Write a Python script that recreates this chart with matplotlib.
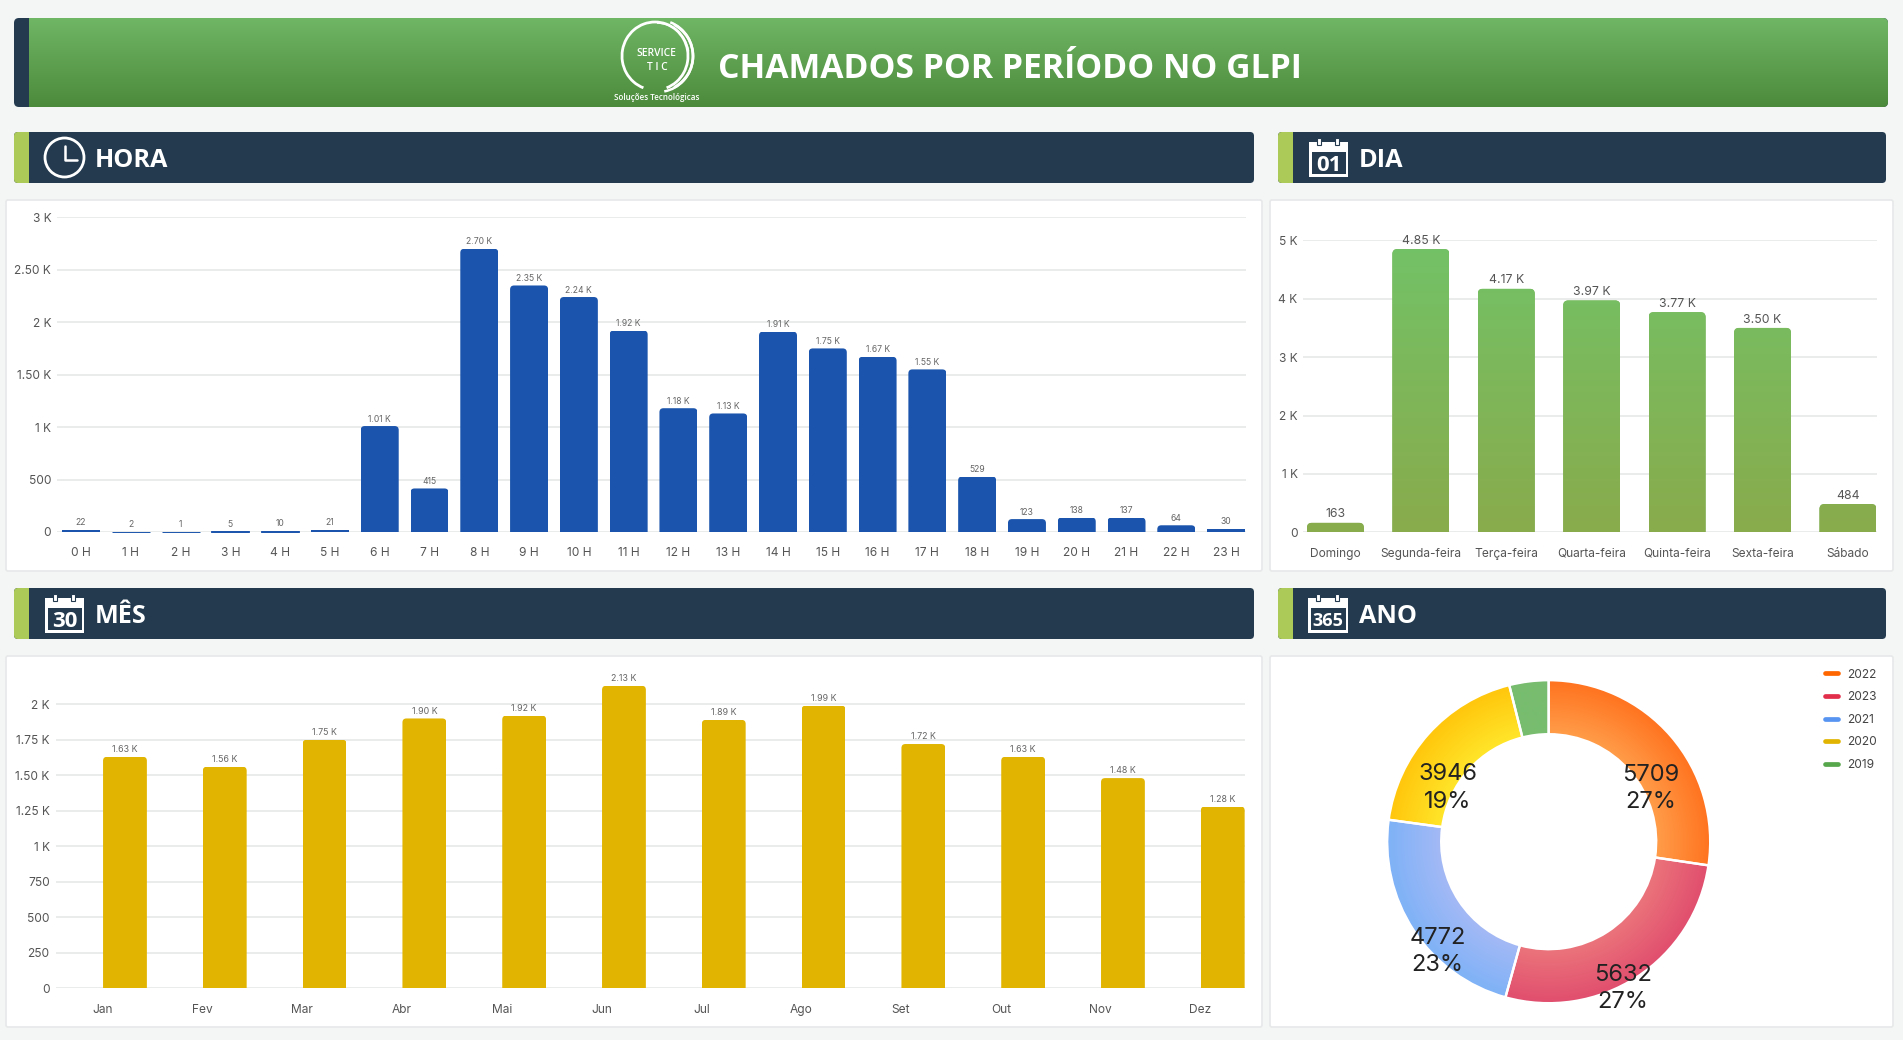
import numpy as np
import matplotlib
matplotlib.use("Agg")
import matplotlib.pyplot as plt
from matplotlib.patches import FancyBboxPatch, PathPatch, Rectangle, Circle, Arc, Wedge
from matplotlib.path import Path
from matplotlib.lines import Line2D
from matplotlib.colors import to_rgb

plt.rcParams['font.family'] = ['Inter', 'DejaVu Sans']

# ---------- data ----------
hour_labels = [f"{h} H" for h in range(24)]
hour_values = [22, 2, 1, 5, 10, 21, 1010, 415, 2700, 2350, 2240, 1920, 1180, 1130,
               1910, 1750, 1670, 1550, 529, 123, 138, 137, 64, 30]
hour_ticks = [0, 500, 1000, 1500, 2000, 2500, 3000]
hour_ticklabels = ["0", "500", "1 K", "1.50 K", "2 K", "2.50 K", "3 K"]

day_labels = ["Domingo", "Segunda-feira", "Terça-feira", "Quarta-feira",
              "Quinta-feira", "Sexta-feira", "Sábado"]
day_values = [163, 4850, 4170, 3970, 3770, 3500, 484]
day_ticks = [0, 1000, 2000, 3000, 4000, 5000]
day_ticklabels = ["0", "1 K", "2 K", "3 K", "4 K", "5 K"]

month_labels = ["Jan", "Fev", "Mar", "Abr", "Mai", "Jun", "Jul", "Ago", "Set", "Out", "Nov", "Dez"]
month_values = [1630, 1560, 1750, 1900, 1920, 2130, 1890, 1990, 1720, 1630, 1480, 1280]
month_ticks = [0, 250, 500, 750, 1000, 1250, 1500, 1750, 2000]
month_ticklabels = ["0", "250", "500", "750", "1 K", "1.25 K", "1.50 K", "1.75 K", "2 K"]

year_labels = ["2022", "2023", "2021", "2020", "2019"]
year_values = [5709, 5632, 4772, 3946, 821]
year_shares = ["27%", "27%", "23%", "19%", None]

# ---------- style ----------
W, H = 1903, 1040
BG = "#F4F6F5"
NAVY = "#233A4F"
LIME = "#ABCA58"
GRID = "#E8EAEB"
BORDER = "#E6E8E9"
TICK = "#555555"
BLUE = "#1A54AC"
GOLD = "#E0B400"
HEAD = "Open Sans"

fig = plt.figure(figsize=(W / 100, H / 100), dpi=100, facecolor=BG)
bg = fig.add_axes([0, 0, 1, 1], zorder=0)
bg.set_xlim(0, W)
bg.set_ylim(H, 0)
bg.axis("off")


def rounded(ax, x0, y0, x1, y1, r, **kw):
    p = FancyBboxPatch((x0 + r, y0 + r), x1 - x0 - 2 * r, y1 - y0 - 2 * r,
                       boxstyle=f"round,pad={r},rounding_size={r}", **kw)
    ax.add_patch(p)
    return p


def vgrad(ax, clip, x0, y0, x1, y1, top, bottom, zorder=2):
    t, b = np.array(to_rgb(top)), np.array(to_rgb(bottom))
    f = np.linspace(0, 1, 256)[:, None, None]
    img = t[None, None, :] * (1 - f) + b[None, None, :] * f
    im = ax.imshow(img, extent=(x0, x1, y1, y0), aspect="auto", origin="upper",
                   interpolation="bilinear", zorder=zorder)
    im.set_clip_path(clip)
    return im


def section(x0, x1, y0, y1, text, tx):
    rounded(bg, x0, y0, x1, y1, 4, fc=NAVY, ec="none", zorder=1)
    clip = FancyBboxPatch((x0 + 4, y0 + 4), x1 - x0 - 8, y1 - y0 - 8,
                          boxstyle="round,pad=4,rounding_size=4", transform=bg.transData)
    s = Rectangle((x0, y0), 15, y1 - y0, fc=LIME, ec="none", zorder=2)
    bg.add_patch(s)
    s.set_clip_path(clip)
    bg.text(tx, (y0 + y1) / 2 + 3, text, color="white", fontsize=18.2, fontweight=700,
            family=HEAD, va="center", ha="left", zorder=3)


def calendar(x0, x1, y0, y1, num):
    bg.add_patch(Rectangle((x0, y0 + 4), x1 - x0, y1 - y0 - 4, fc="white", ec="none", zorder=3))
    bg.add_patch(Rectangle((x0 + 2.5, y0 + 14), x1 - x0 - 5, y1 - y0 - 17, fc=NAVY, ec="none", zorder=4))
    for fx in (0.26, 0.72):
        cx = x0 + fx * (x1 - x0)
        bg.add_patch(Rectangle((cx - 2, y0), 4, 7, fc="white", ec=NAVY, lw=0.8, zorder=5))
    fs = 16 if len(num) == 2 else 13
    bg.text((x0 + x1) / 2, y0 + 27.5, num, color="white", fontsize=fs, fontweight=700,
            family=HEAD, ha="center", va="center", zorder=5)


# ---------- banner ----------
rounded(bg, 14, 18, 1888, 107, 5, fc=NAVY, ec="none", zorder=1)
bclip = FancyBboxPatch((19, 23), 1864, 79, boxstyle="round,pad=5,rounding_size=5", transform=bg.transData)
vgrad(bg, bclip, 29, 18, 1888, 107, "#6FB665", "#4C8A3B")
bg.set_xlim(0, W)
bg.set_ylim(H, 0)
bg.text(718, 68.5, "CHAMADOS POR PERÍODO NO GLPI", color="white", fontsize=24.3, fontweight=700,
        family=HEAD, va="center", ha="left", zorder=3)
# logo
bg.add_patch(Arc((655, 56), 66, 68, color="white", lw=2.0, zorder=3, theta1=-250, theta2=70))
bg.add_patch(Arc((658, 56), 70, 72, color="white", lw=1.8, zorder=3, theta1=-70, theta2=80))
bg.add_patch(Arc((656, 56), 74, 72, color="white", lw=2.0, zorder=3, theta1=-60, theta2=60))
bg.add_patch(Arc((657, 57), 64, 68, color="white", lw=1.2, zorder=3, theta1=-90, theta2=-10))
bg.text(656, 54, "SERVICE", color="white", fontsize=7.4, fontweight=600, ha="center", va="center",
        family=HEAD, zorder=3)
bg.text(657, 67, "T I C", color="white", fontsize=7.4, fontweight=600, ha="center", va="center",
        family=HEAD, zorder=3)
bg.text(657, 98, "Soluções Tecnológicas", color="white", fontsize=5.8, fontweight=600,
        ha="center", va="center", family=HEAD, zorder=3)

# ---------- sections ----------
section(14, 1254, 132, 183, "HORA", 95)
section(1278, 1886, 132, 183, "DIA", 1359)
section(14, 1254, 588, 639, "MÊS", 95)
section(1278, 1886, 588, 639, "ANO", 1359)

bg.add_patch(Circle((64.5, 157.5), 19.5, fc="none", ec="white", lw=2, zorder=3))
bg.plot([65, 65, 77], [146, 159.5, 159.5], color="white", lw=1.8, zorder=3, solid_capstyle="round")
bg.set_xlim(0, W)
bg.set_ylim(H, 0)
calendar(1309, 1348, 138, 177, "01")
calendar(45, 84, 594, 633, "30")
calendar(1308, 1348, 594, 633, "365")

# ---------- panels ----------
for (x0, y0, x1, y1) in [(6, 200, 1262, 571), (1270, 200, 1893, 571),
                         (6, 656, 1262, 1027), (1270, 656, 1893, 1027)]:
    rounded(bg, x0, y0, x1, y1, 2, fc="white", ec=BORDER, lw=1.2, zorder=1)


def chart_axes(l, t, r, b):
    ax = fig.add_axes([l / W, 1 - b / H, (r - l) / W, (b - t) / H], zorder=2)
    ax.patch.set_alpha(0)
    for s in ax.spines.values():
        s.set_visible(False)
    ax.grid(axis="y", color=GRID, lw=1.3)
    ax.set_axisbelow(True)
    ax.tick_params(length=0, labelcolor=TICK)
    return ax


def top_round_path(x0, x1, top, rx, ry):
    v = [(x0, 0), (x0, top - ry), (x0, top), (x0 + rx, top), (x1 - rx, top),
         (x1, top), (x1, top - ry), (x1, 0), (x0, 0)]
    c = [Path.MOVETO, Path.LINETO, Path.CURVE3, Path.CURVE3, Path.LINETO,
         Path.CURVE3, Path.CURVE3, Path.LINETO, Path.CLOSEPOLY]
    return Path(v, c)


def fmt(v):
    return str(v) if v < 1000 else f"{v / 1000:.2f} K"


def bars(ax, xpos, values, width, color, radius_px, lab_fs, lab_off_px, lab_color, grad=None):
    pos = ax.get_position()
    xpp = (ax.get_xlim()[1] - ax.get_xlim()[0]) / (pos.width * W)
    ypp = (ax.get_ylim()[1] - ax.get_ylim()[0]) / (pos.height * H)
    cont = ax.bar(xpos, values, width=width, color=color, zorder=2)
    lim = ax.get_xlim(), ax.get_ylim()
    for rect, v, x in zip(cont, values, xpos):
        h_px = v / ypp
        if h_px >= 4:
            r = radius_px
            path = top_round_path(x - width / 2, x + width / 2, v, r * xpp, r * ypp)
            clip = PathPatch(path, transform=ax.transData)
            rect.set_clip_path(clip)
            if grad:
                vgrad(ax, clip, x - width / 2, lim[1][1], x + width / 2, 0, grad[0], grad[1], zorder=3)
        elif h_px < 1.5:
            rect.set_edgecolor(color)
            rect.set_linewidth(0.7)
            rect.set_clip_on(False)
        ax.annotate(fmt(v), (x, v), xytext=(0, lab_off_px * 0.72), textcoords="offset points",
                    ha="center", va="center", fontsize=lab_fs, color=lab_color, annotation_clip=False, zorder=4)
    ax.set_xlim(*lim[0])
    ax.set_ylim(*lim[1])


# ---------- HORA ----------
ax1 = chart_axes(57, 217.3, 1246, 532)
ax1.set_xlim(-0.482, 23.4)
ax1.set_ylim(0, 3000)
ax1.set_yticks(hour_ticks, hour_ticklabels, fontsize=8.6)
ax1.set_xticks(range(24), hour_labels, fontsize=8.6)
ax1.tick_params(axis="y", pad=4.2)
ax1.tick_params(axis="x", pad=11)
bars(ax1, np.arange(24), hour_values, 0.763, BLUE, 4, 6.2, 7, "#666666")

# ---------- DIA ----------
ax2 = chart_axes(1303.4, 240.3, 1877, 532.3)
ax2.set_xlim(-0.375, 6.34)
ax2.set_ylim(0, 5000)
ax2.set_yticks(day_ticks, day_ticklabels, fontsize=8.6)
ax2.set_xticks(range(7), day_labels, fontsize=8.6)
ax2.tick_params(axis="y", pad=4.2)
ax2.tick_params(axis="x", pad=11)
bars(ax2, np.arange(7), day_values, 0.667, "#7DB75E", 5, 8.8, 8.3, "#555555",
     grad=("#73C267", "#89AB4C"))

# ---------- MÊS ----------
ax3 = chart_axes(55.5, 685.8, 1245, 988.3)
ax3.set_xlim(-0.473, 11.446)
ax3.set_ylim(0, 2130)
ax3.set_yticks(month_ticks, month_ticklabels, fontsize=8.6)
ax3.set_xticks(range(12), month_labels, fontsize=8.6)
ax3.tick_params(axis="y", pad=4.2)
ax3.tick_params(axis="x", pad=11)
bars(ax3, np.arange(12) + 0.223, month_values, 0.439, GOLD, 4, 6.4, 7.3, "#666666")

# ---------- ANO ----------
CX, CY = 1548.7, 841.7
ax4 = fig.add_axes([1270 / W, 1 - 1027 / H, 623 / W, 371 / H], zorder=2)
ax4.patch.set_alpha(0)
wedges, _ = ax4.pie(year_values, startangle=90, counterclock=False, radius=161.5,
                    colors=["#FF7F30", "#E65C72", "#8CB5F6", "#FFD21A", "#78BD6F"],
                    wedgeprops=dict(width=54, linewidth=0))
ax4.set_aspect("auto")
xl = (1270 - CX, 1893 - CX)
yl = (CY - 1027, CY - 656)
ax4.axis("off")
outer = ["#FF7420", "#E14F6E", "#7FB2F7", "#FFC70D", "#78BD6F"]
inner = ["#FF9D4A", "#EB747B", "#A4B9F5", "#FFE62A", "#78BD6F"]
gx, gy = np.meshgrid(np.linspace(-165, 165, 661), np.linspace(-165, 165, 661))
rr = np.hypot(gx, gy)
f = np.clip((rr - 107.5) / 52.5, 0, 1)[:, :, None]
for w, co, ci in zip(wedges, outer, inner):
    img = np.array(to_rgb(ci))[None, None, :] * (1 - f) + np.array(to_rgb(co))[None, None, :] * f
    im = ax4.imshow(img, extent=(-165, 165, -165, 165), origin="lower", aspect="auto",
                    interpolation="bilinear", zorder=2)
    im.set_clip_path(w)
    ax4.add_patch(Wedge(w.center, w.r, w.theta1, w.theta2, width=w.width, fill=False,
                        ec="white", lw=1.7, zorder=3))
ax4.set_xlim(*xl)
ax4.set_ylim(*yl)
label_xy = [(1650.6, 775.2, 802.5), (1622.7, 975.2, 1001.5), (1437.5, 938.2, 965.2), (1448, 774.2, 802.5)]
for (lx, ly1, ly2), v, s in zip(label_xy, year_values, year_shares):
    ax4.text(lx - CX, CY - ly1, str(v), fontsize=17, color="#222222", ha="center", va="center", zorder=5)
    ax4.text(lx - CX, CY - ly2, s, fontsize=17, color="#222222", ha="center", va="center", zorder=5)
handles = [Line2D([], [], color=c, lw=3.4, solid_capstyle="round")
           for c in ["#FF6600", "#E22E4B", "#5794F2", "#E0B400", "#56A64B"]]
leg = ax4.legend(handles, year_labels, loc="upper left", frameon=False,
                 bbox_to_anchor=((1825 - 1270) / 623, 1 - (668.5 - 656) / 371), borderaxespad=0, borderpad=0,
                 fontsize=8.6, labelspacing=0.89, handlelength=1.1, handletextpad=0.75, labelcolor="#444444")

fig.savefig("out.png", dpi=100, facecolor=BG)
